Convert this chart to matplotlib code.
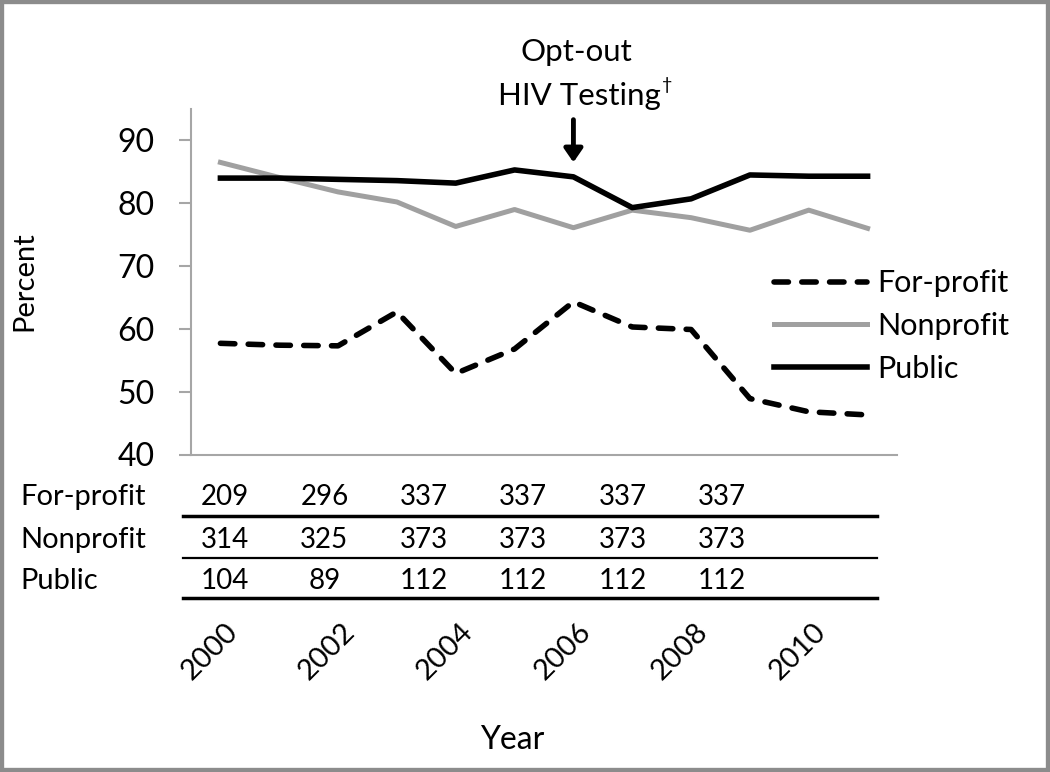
"""
Percent by ownership type, 2000-2011, with facility counts table
"""
import matplotlib
matplotlib.use('Agg')
import matplotlib.pyplot as plt
from matplotlib.lines import Line2D
from matplotlib.patches import Rectangle
import numpy as np

plt.rcParams['font.family'] = ['Lato', 'DejaVu Sans']

# Data
years = np.arange(2000, 2012)
for_profit = [57.7, 57.4, 57.3, 62.7, 52.9, 56.8, 64.3, 60.3, 59.9, 48.9, 46.8, 46.3]
nonprofit = [86.5, 84.1, 81.8, 80.2, 76.3, 79.0, 76.1, 78.9, 77.7, 75.7, 78.9, 76.0]
public = [84.0, 84.0, 83.8, 83.6, 83.2, 85.3, 84.2, 79.3, 80.7, 84.5, 84.3, 84.3]

year_labels = ['2000', '2002', '2004', '2006', '2008', '2010']
row_names = ['For-profit', 'Nonprofit', 'Public']
n_for_profit = [209, 296, 337, 337, 337, 337]
n_nonprofit = [314, 325, 373, 373, 373, 373]
n_public = [104, 89, 112, 112, 112, 112]

W, H = 1050, 772
def fx(x): return x / W
def fy(y): return 1 - y / H

fig = plt.figure(figsize=(10.5, 7.72), dpi=100)
ax = fig.add_axes([fx(191), fy(454.5), fx(897) - fx(191), (454.5 - 109) / H])

idx = np.arange(len(years))
ax.plot(idx, for_profit, color='black', lw=4.0, dashes=(2.6, 2.4),
        dash_capstyle='round', label='For-profit')
ax.plot(idx, nonprofit, color='#a0a0a0', lw=3.6, label='Nonprofit')
ax.plot(idx, public, color='black', lw=4.0, label='Public')

ax.set_xlim(-0.5, len(years) - 0.5)
ax.set_ylim(40, 95)
ax.set_yticks([40, 50, 60, 70, 80, 90])
ax.set_xticks([])
for s in ['top', 'right']:
    ax.spines[s].set_visible(False)
for s in ['left', 'bottom']:
    ax.spines[s].set_color('#a6a6a6')
    ax.spines[s].set_linewidth(1.5)
ax.tick_params(axis='y', length=9, width=1.5, color='#a6a6a6', pad=17,
               labelsize=23)
ax.set_ylabel('Percent', fontsize=21)
ax.yaxis.set_label_coords(-(191 - 37) / (897 - 191), (454.5 - 281) / 345.5)

# rotated year labels under the table
for lab in year_labels:
    xi = years.tolist().index(int(lab))
    ax.text(xi + 0.22, -(628 - 454.5) / 345.5, lab, rotation=45,
            ha='right', va='center', rotation_mode='anchor', fontsize=21,
            transform=ax.get_xaxis_transform())
fig.text(fx(512), fy(740), 'Year', ha='center', va='center', fontsize=23)

# opt-out annotation
i06 = years.tolist().index(2006)
ax.annotate('', xy=(i06, 86.5), xytext=(i06, 93.3), annotation_clip=False,
            arrowprops=dict(arrowstyle='-|>,head_length=0.8,head_width=0.55',
                            lw=3.5, color='black', shrinkA=0, shrinkB=0))
fig.text(fx(576), fy(52), 'Opt-out', ha='center', va='center', fontsize=22.5)
fig.text(fx(661), fy(96), 'HIV Testing', ha='right', va='center', fontsize=22.5)
fig.text(fx(662), fy(85), '\u2020', ha='left', va='center', fontsize=13)

# legend
ax.legend(loc='center left', bbox_to_anchor=(fx(774), fy(326)),
          bbox_transform=fig.transFigure, frameon=False, fontsize=22,
          handlelength=3.04, handletextpad=0.33, labelspacing=0.48,
          borderaxespad=0, borderpad=0)

# counts table
col_x = np.linspace(225, 722, 6)
row_y = [497, 540, 581]
rule_y = [516, 558, 598]
rule_w = [2.5, 1.6, 2.5]
for r, (name, vals) in enumerate(zip(row_names, [n_for_profit, n_nonprofit, n_public])):
    fig.text(fx(20), fy(row_y[r]), name, ha='left', va='center', fontsize=21)
    for c, v in enumerate(vals):
        fig.text(fx(col_x[c]), fy(row_y[r]), str(v), ha='center', va='center',
                 fontsize=20)
    fig.add_artist(Line2D([fx(183), fx(877)], [fy(rule_y[r])] * 2,
                          color='black', lw=rule_w[r], transform=fig.transFigure))

# outer frame
fig.add_artist(Rectangle((0, 0), 1, 1, transform=fig.transFigure, fill=False,
                         ec='#8c8c8c', lw=6))

fig.savefig('out.png', dpi=100, facecolor='white')
plt.close()
print('Figure saved')
